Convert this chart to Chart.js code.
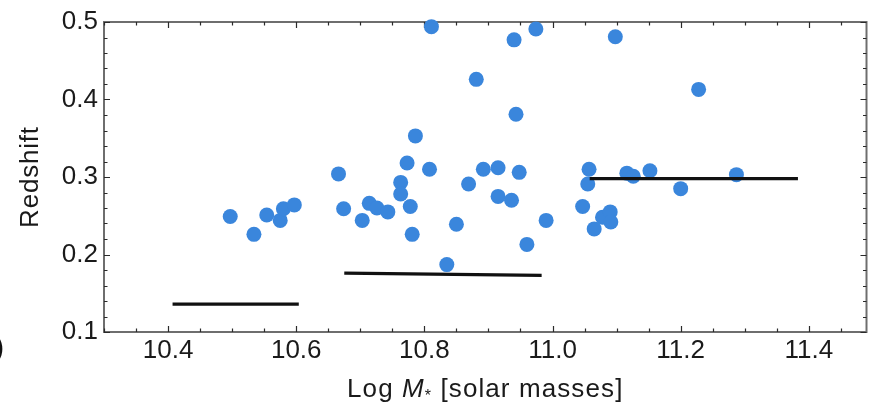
<!DOCTYPE html>
<html>
<head>
<meta charset="utf-8">
<script src="https://cdn.jsdelivr.net/npm/chart.js@4.4.1/dist/chart.umd.min.js"></script>
<style>
  html, body { margin: 0; padding: 0; background: #ffffff; overflow: hidden; }
  #wrap { width: 874px; height: 406px; }
</style>
</head>
<body>
<div id="wrap"><canvas id="c" width="874" height="406"></canvas></div>
<script>
// ---- data ----
const logMass = [10.497, 10.534, 10.554, 10.575, 10.580, 10.597, 10.666, 10.674, 10.703, 10.714,
                 10.726, 10.743, 10.763, 10.763, 10.773, 10.778, 10.781, 10.786, 10.808, 10.811,
                 10.835, 10.850, 10.869, 10.881, 10.892, 10.915, 10.915, 10.936, 10.940, 10.943,
                 10.948, 10.960, 10.974, 10.990, 11.047, 11.055, 11.057, 11.065, 11.078, 11.090,
                 11.091, 11.098, 11.116, 11.126, 11.152, 11.200, 11.228, 11.287];
const redshift = [0.249, 0.226, 0.251, 0.244, 0.259, 0.264, 0.304, 0.259, 0.244, 0.266,
                  0.260, 0.255, 0.293, 0.278, 0.318, 0.262, 0.226, 0.353, 0.310, 0.494,
                  0.187, 0.239, 0.291, 0.426, 0.310, 0.312, 0.275, 0.270, 0.477, 0.381,
                  0.306, 0.213, 0.491, 0.244, 0.262, 0.291, 0.310, 0.233, 0.248, 0.255,
                  0.242, 0.481, 0.305, 0.301, 0.308, 0.285, 0.413, 0.303];

// three horizontal limit segments (x endpoints, y endpoints)
const limitLowX  = [10.407, 10.604];
const limitLowY  = [0.136, 0.136];
const limitMidX  = [10.675, 10.983];
const limitMidY  = [0.176, 0.173];
const limitHighX = [11.058, 11.383];
const limitHighY = [0.298, 0.298];

const xTickLabels = ['10.4', '10.6', '10.8', '11.0', '11.2', '11.4'];
const yTickLabels = ['0.1', '0.2', '0.3', '0.4', '0.5'];

const xTitleParts = ['Log ', 'M', '*', ' [solar masses]'];
const yTitle = 'Redshift';

// ---- build datasets ----
const pts = logMass.map((m, i) => ({ x: m, y: redshift[i] }));
const seg = (xs, ys) => xs.map((v, i) => ({ x: v, y: ys[i] }));

const FONT_FAMILY = '"Liberation Sans", Arial, Helvetica, sans-serif';
const FONT_SIZE = 26;

const framePlugin = {
  id: 'frameTicks',
  beforeDatasetsDraw(chart) {
    const { ctx, chartArea: a, scales } = chart;
    const x = scales.x, y = scales.y;
    ctx.save();
    // frame
    ctx.strokeStyle = '#6e6e6e';
    ctx.lineWidth = 2;
    ctx.strokeRect(a.left, a.top, a.right - a.left, a.bottom - a.top);
    // ticks (inward, on all sides)
    ctx.strokeStyle = '#2a2a2a';
    ctx.lineWidth = 1.2;
    ctx.beginPath();
    const xMajor = xTickLabels.map(Number);
    for (let k = 0; k <= 24; k++) {
      const v = 10.3 + k * 0.05;
      if (v > x.max + 1e-9) break;
      const px = Math.round(x.getPixelForValue(v)) + 0.5;
      const major = xMajor.some(m => Math.abs(m - v) < 1e-6);
      const len = major ? 6 : 3.5;
      ctx.moveTo(px, a.bottom); ctx.lineTo(px, a.bottom - len);
      ctx.moveTo(px, a.top); ctx.lineTo(px, a.top + len);
    }
    const yMajor = yTickLabels.map(Number);
    for (let k = 0; k <= 20; k++) {
      const v = 0.1 + k * 0.02;
      const py = Math.round(y.getPixelForValue(v)) + 0.5;
      const major = yMajor.some(m => Math.abs(m - v) < 1e-6);
      const len = major ? 6 : 3.5;
      ctx.moveTo(a.left, py); ctx.lineTo(a.left + len, py);
      ctx.moveTo(a.right, py); ctx.lineTo(a.right - len, py);
    }
    ctx.stroke();
    ctx.restore();
  },
  afterDraw(chart) {
    const { ctx, chartArea: a } = chart;
    ctx.save();
    ctx.fillStyle = '#1a1a1a';
    // x title with italic M and subscript *
    const normal = FONT_SIZE + 'px ' + FONT_FAMILY;
    const italic = 'italic ' + FONT_SIZE + 'px ' + FONT_FAMILY;
    const small = Math.round(FONT_SIZE * 0.6) + 'px ' + FONT_FAMILY;
    const fonts = [normal, italic, small, normal];
    ctx.letterSpacing = '1.1px';
    const widths = xTitleParts.map((t, i) => { ctx.font = fonts[i]; return ctx.measureText(t).width; });
    const total = widths.reduce((s, w) => s + w, 0);
    let cx = (a.left + a.right) / 2 - total / 2;
    const baseY = 397;
    ctx.textBaseline = 'alphabetic';
    ctx.textAlign = 'left';
    xTitleParts.forEach((t, i) => {
      ctx.font = fonts[i];
      ctx.fillText(t, cx, i === 2 ? baseY + 4 : baseY);
      cx += widths[i];
    });
    // y title
    ctx.font = normal;
    ctx.letterSpacing = '0.8px';
    ctx.translate(31, (a.top + a.bottom) / 2);
    ctx.rotate(-Math.PI / 2);
    ctx.textAlign = 'center';
    ctx.textBaseline = 'middle';
    ctx.fillText(yTitle, 0, 0);
    ctx.restore();
    // partial glyph at the lower-left edge of the reference crop
    ctx.save();
    ctx.font = 'bold ' + FONT_SIZE + 'px ' + FONT_FAMILY;
    ctx.fillStyle = '#111';
    ctx.textBaseline = 'middle';
    ctx.fillText(')', -5, 349);
    ctx.restore();
  }
};

new Chart(document.getElementById('c'), {
  type: 'scatter',
  data: {
    datasets: [
      { data: pts, backgroundColor: '#3a86dc', borderColor: '#3a86dc', borderWidth: 0,
        pointRadius: 7.5, pointHoverRadius: 7.5, clip: false, order: 2 },
      { data: seg(limitLowX, limitLowY), showLine: true, borderColor: '#111', borderWidth: 3.2,
        pointRadius: 0, order: 1, clip: false },
      { data: seg(limitMidX, limitMidY), showLine: true, borderColor: '#111', borderWidth: 3.2,
        pointRadius: 0, order: 1, clip: false },
      { data: seg(limitHighX, limitHighY), showLine: true, borderColor: '#111', borderWidth: 3.2,
        pointRadius: 0, order: 1, clip: false }
    ]
  },
  options: {
    responsive: false,
    animation: false,
    events: [],
    layout: { padding: { top: 22, right: 1, left: 0, bottom: 0 } },
    plugins: { legend: { display: false }, tooltip: { enabled: false } },
    scales: {
      x: {
        type: 'linear', min: 10.3, max: 11.49,
        grid: { display: false, drawTicks: false },
        border: { display: false },
        afterBuildTicks: s => { s.ticks = xTickLabels.map(v => ({ value: Number(v) })); },
        afterFit: s => { s.height = 74; },
        ticks: {
          padding: 3, color: '#1a1a1a', autoSkip: false, maxRotation: 0,
          font: { size: FONT_SIZE, family: FONT_FAMILY },
          callback: v => Number(v).toFixed(1)
        }
      },
      y: {
        type: 'linear', min: 0.1, max: 0.5,
        grid: { display: false, drawTicks: false },
        border: { display: false },
        afterBuildTicks: s => { s.ticks = yTickLabels.map(v => ({ value: Number(v) })); },
        afterFit: s => { s.width = 104; },
        ticks: {
          padding: 6, color: '#1a1a1a', autoSkip: false,
          font: { size: FONT_SIZE, family: FONT_FAMILY },
          callback: v => Number(v).toFixed(1)
        }
      }
    }
  },
  plugins: [framePlugin]
});
</script>
</body>
</html>
